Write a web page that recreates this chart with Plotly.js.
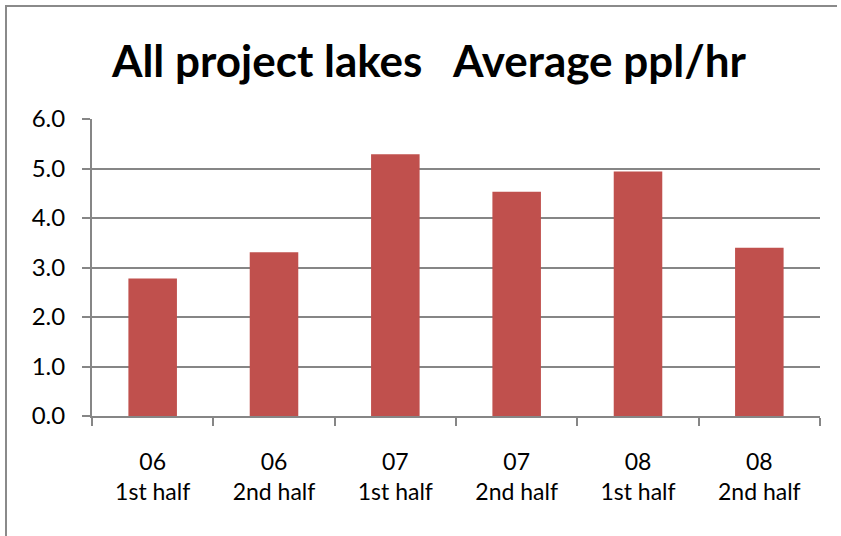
<!DOCTYPE html>
<html>
<head>
<meta charset="utf-8">
<script src="https://cdn.plot.ly/plotly-3.0.1.min.js"></script>
<style>
  html, body { margin: 0; padding: 0; overflow: hidden; background: #fff; }
  #chart { position: absolute; left: 0; top: 0; width: 841px; height: 536px; }
  #frame { position: absolute; left: 5px; top: 5px; width: 830px; height: 540px;
           border-left: 2px solid #8a8a8a; border-top: 2px solid #8a8a8a; pointer-events: none; }
</style>
</head>
<body>
<div id="chart"></div>
<div id="frame"></div>
<script>
const categories = ["06<br>1st half", "06<br>2nd half", "07<br>1st half",
                    "07<br>2nd half", "08<br>1st half", "08<br>2nd half"];
const values = [2.78, 3.31, 5.29, 4.53, 4.94, 3.40];
const yTickVals = [0, 1, 2, 3, 4, 5, 6];
const yTickText = ["0.0", "1.0", "2.0", "3.0", "4.0", "5.0", "6.0"];
const titleText = "All project lakes\u00A0\u00A0\u00A0Average ppl/hr";

const grid = "#868686";
const data = [{
  type: "bar",
  x: categories,
  y: values,
  marker: { color: "#C0504D", line: { width: 0 } },
  hoverinfo: "none"
}];

const layout = {
  width: 841, height: 536,
  margin: { l: 92, r: 21, t: 119, b: 120 },
  paper_bgcolor: "#fff", plot_bgcolor: "#fff",
  showlegend: false,
  bargap: 0.6,
  title: {
    text: titleText,
    font: { family: "Lato, 'Open Sans', sans-serif", size: 44, color: "#000", weight: "bold" },
    x: 0.51, xref: "container", xanchor: "center",
    y: 0.885, yref: "container", yanchor: "middle"
  },
  font: { family: "Lato, 'Open Sans', sans-serif", size: 23, color: "#000" },
  xaxis: {
    type: "category",
    tickson: "boundaries",
    ticks: "outside", ticklen: 8, tickcolor: grid, tickwidth: 2,
    showline: true, linecolor: grid, linewidth: 2,
    showgrid: false, zeroline: false,
    ticklabelstandoff: 24,
    tickfont: { size: 23 }
  },
  yaxis: {
    range: [0, 6],
    tickvals: yTickVals, ticktext: yTickText,
    ticks: "outside", ticklen: 8, tickcolor: grid, tickwidth: 2,
    showline: true, linecolor: grid, linewidth: 2,
    showgrid: true, gridcolor: grid, gridwidth: 2,
    zeroline: false,
    ticklabelstandoff: 12,
    tickfont: { size: 24 }
  }
};

Plotly.newPlot("chart", data, layout, { displayModeBar: false, staticPlot: true });
</script>
</body>
</html>
